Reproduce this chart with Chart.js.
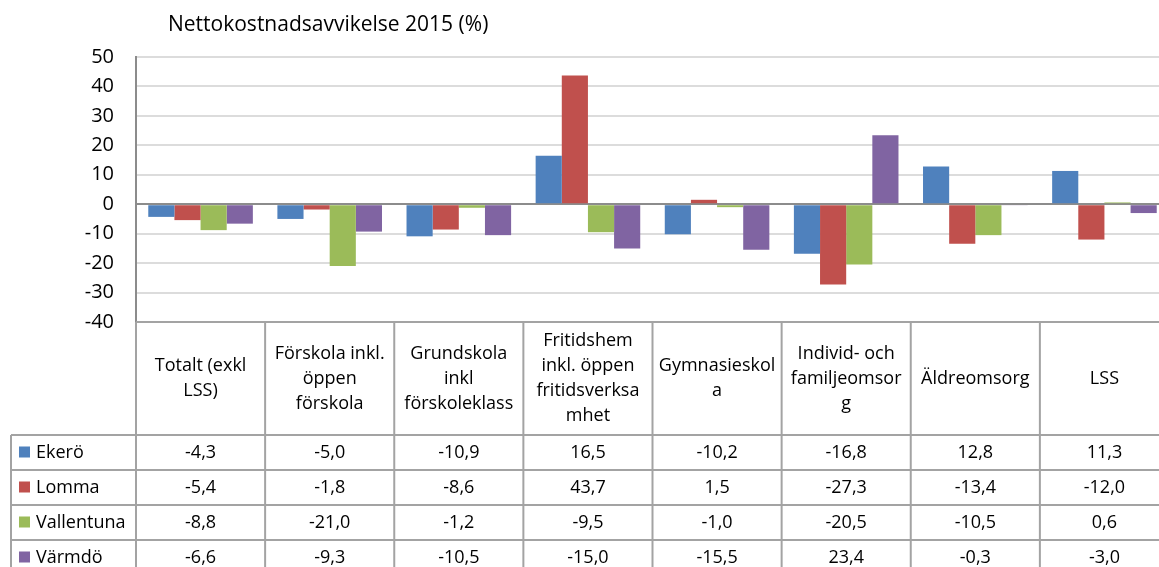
<!DOCTYPE html>
<html>
<head>
<meta charset="utf-8">
<script src="https://cdn.jsdelivr.net/npm/chart.js@4"></script>
<style>
  html, body { margin: 0; padding: 0; background: #fff; overflow: hidden; }
  #wrap { width: 1169px; height: 567px; }
</style>
</head>
<body>
<div id="wrap"><canvas id="chart" width="1169" height="567"></canvas></div>
<script>
// categories (line breaks as shown in the table header)
const categories = [
  ['Totalt (exkl', 'LSS)'],
  ['Förskola inkl.', 'öppen', 'förskola'],
  ['Grundskola', 'inkl', 'förskoleklass'],
  ['Fritidshem', 'inkl. öppen', 'fritidsverksa', 'mhet'],
  ['Gymnasieskol', 'a'],
  ['Individ- och', 'familjeomsor', 'g'],
  ['Äldreomsorg'],
  ['LSS']
];
const seriesNames = ['Ekerö', 'Lomma', 'Vallentuna', 'Värmdö'];
const ekero      = [-4.3, -5.0, -10.9, 16.5, -10.2, -16.8, 12.8, 11.3];
const lomma      = [-5.4, -1.8, -8.6, 43.7, 1.5, -27.3, -13.4, -12.0];
const vallentuna = [-8.8, -21.0, -1.2, -9.5, -1.0, -20.5, -10.5, 0.6];
const varmdo     = [-6.6, -9.3, -10.5, -15.0, -15.5, 23.4, -0.3, -3.0];
const yMin = -40, yMax = 50, yStep = 10;
const titleText = 'Nettokostnadsavvikelse 2015 (%)';

const colors = ['#4F81BD', '#C0504D', '#9BBB59', '#8064A2'];
const FONT = '"Open Sans", sans-serif';

// data table under the plot, drawn from the chart's own data and x layout
const tablePlugin = {
  id: 'dataTable',
  afterDraw(chart) {
    const ctx = chart.ctx, a = chart.chartArea;
    const H = chart.height;
    const n = chart.data.labels.length;
    const w = (a.right - a.left) / n;
    const top = a.bottom, headBottom = 435, rowH = 35, tableLeft = 11;

    ctx.save();
    // title
    ctx.fillStyle = '#000';
    ctx.font = '21px ' + FONT;
    ctx.textAlign = 'left';
    ctx.textBaseline = 'middle';
    ctx.fillText(titleText, 168, 25);

    // grid
    ctx.strokeStyle = '#a3a3a3';
    ctx.lineWidth = 2;
    const line = (x1, y1, x2, y2) => { ctx.beginPath(); ctx.moveTo(x1, y1); ctx.lineTo(x2, y2); ctx.stroke(); };
    line(a.left, top, a.right, top);
    for (let r = 0; r <= chart.data.datasets.length; r++) {
      const y = headBottom + r * rowH;
      line(tableLeft, y, a.right, y);
    }
    line(tableLeft, headBottom, tableLeft, H);
    for (let i = 0; i <= n; i++) {
      const x = a.left + i * w;
      line(x, top, x, H);
    }

    // header labels
    ctx.fillStyle = '#000';
    ctx.textAlign = 'center';
    ctx.font = '18px ' + FONT;
    const lh = 25;
    chart.data.labels.forEach((lab, i) => {
      const lines = Array.isArray(lab) ? lab : [lab];
      const cx = a.left + (i + 0.5) * w;
      const cy = (top + headBottom) / 2;
      const y0 = cy - (lines.length - 1) * lh / 2;
      lines.forEach((t, k) => ctx.fillText(t, cx, y0 + k * lh));
    });

    // rows
    chart.data.datasets.forEach((ds, r) => {
      const cy = headBottom + r * rowH + rowH / 2;
      ctx.fillStyle = ds.backgroundColor;
      ctx.fillRect(19, cy - 6, 11, 11);
      ctx.fillStyle = '#000';
      ctx.textAlign = 'left';
      ctx.fillText(ds.label, 36, cy);
      ctx.textAlign = 'center';
      ds.data.forEach((v, i) => {
        ctx.fillText(v.toFixed(1).replace('.', ','), a.left + (i + 0.5) * w, cy);
      });
    });
    ctx.restore();
  }
};

const seriesValues = [ekero, lomma, vallentuna, varmdo];

new Chart(document.getElementById('chart'), {
  type: 'bar',
  data: {
    labels: categories,
    datasets: seriesNames.map((name, i) => ({
      label: name,
      data: seriesValues[i],
      backgroundColor: colors[i],
      borderWidth: 0
    }))
  },
  options: {
    responsive: false,
    animation: false,
    layout: { padding: { top: 57, bottom: 245, left: 0, right: 0 } },
    categoryPercentage: 0.81,
    barPercentage: 1.0,
    scales: {
      x: { display: false },
      y: {
        min: yMin, max: yMax,
        ticks: { stepSize: yStep, color: '#000', font: { family: FONT, size: 20 }, padding: 22 },
        grid: {
          drawTicks: false,
          lineWidth: 2,
          color: c => c.tick.value === 0 ? '#8c8c8c' : '#dcdcdc'
        },
        border: { color: '#8c8c8c', width: 2 },
        afterFit(scale) { scale.width = 136; }
      }
    },
    plugins: {
      legend: { display: false },
      tooltip: { enabled: false }
    }
  },
  plugins: [tablePlugin]
});
</script>
</body>
</html>
